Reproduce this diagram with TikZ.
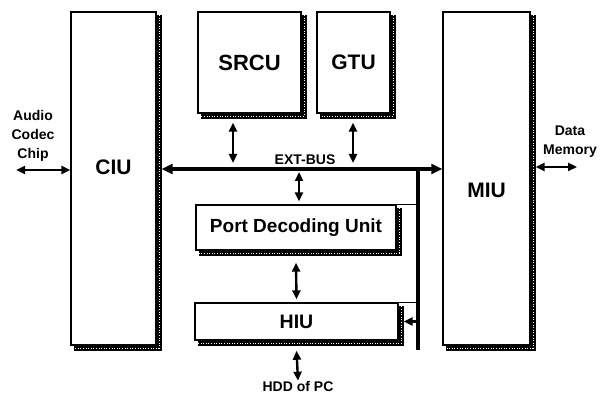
\documentclass[tikz,border=0pt]{standalone}
\usepackage{fontspec}
\setmainfont{Liberation Sans}
\usetikzlibrary{arrows.meta,positioning}
\tikzset{u/.style={draw,line width=1.4pt,inner sep=0pt,big},big/.style={font=\fontsize{21}{23}\selectfont\bfseries},
lb/.style={align=center,inner sep=0pt,font=\fontsize{14}{19}\selectfont\bfseries},
sh/.style={line width=5pt,line join=miter,postaction={draw,white,line width=1.1pt,dash pattern=on 0.9pt off 1.7pt}},
>={Triangle[length=9pt,width=8pt]},arr/.style={<->,line width=2.4pt},
bus/.style={{Triangle[length=11pt,width=10pt]}-{Triangle[length=11pt,width=10pt]},line width=3.2pt}}
\begin{document}
\begin{tikzpicture}[x=1pt,y=-1pt]
\useasboundingbox(0,0)rectangle(607,395);
\node[u,minimum width=85pt,minimum height=333pt,label={[big,yshift=11pt]center:CIU}](CIU)at(113.5,178.5){};
\node[u,minimum width=87pt,minimum height=333pt,label={[big,yshift=-12pt]center:MIU}](MIU)at(486.5,178.5){};
\node[u,minimum width=103pt,minimum height=101pt,font=\fontsize{22}{24}\selectfont\bfseries](SRCU)at(249.5,62.5){SRCU};
\node[u,minimum width=73pt,minimum height=101pt](GTU)at(353.5,62.5){GTU};
\node[u,minimum width=200pt,minimum height=45pt,font=\fontsize{19}{21}\selectfont\bfseries](PDU)at(296,227.5){Port Decoding Unit};
\node[u,minimum width=203pt,minimum height=37pt,font=\fontsize{19.5}{21}\selectfont\bfseries](HIU)at(296.5,321.5){HIU};
\foreach\n in{CIU,MIU,SRCU,GTU,PDU,HIU}\draw[sh]([xshift=2.5pt,yshift=-4pt]\n.north east)--([xshift=2.5pt,yshift=-2.5pt]\n.south east)--([xshift=4pt,yshift=-2.5pt]\n.south west);
\node[lb](AC)at(33,136){Audio\\Codec\\Chip};\node[lb](DM)at(570,142){Data\\Memory};
\node[lb](EB)at(305,160){EXT-BUS};\node[lb](HDD)at(298,386){HDD of PC};
% bus
\coordinate(v1)at(418,169);\coordinate(v2)at(418,350);
\draw[bus]([xshift=5pt]CIU.east|-v1)--(MIU.west|-v1);\draw[line width=3.2pt](v1)--(v2);
\draw[line width=1.4pt](PDU.north east)--(PDU.north east-|v1);\draw[line width=1.4pt](HIU.north east)--(HIU.north east-|v1);
\draw[->,line width=2.4pt](HIU.east-|v1)--([xshift=5pt]HIU.east);
% links
\coordinate(ac)at(16,170);\coordinate(dm)at(577,167);\coordinate(s1)at(233,163);\coordinate(g1)at(353,163);\coordinate(p1)at(299,172);
\draw[arr](ac)--(ac-|CIU.west);\draw[arr]([xshift=5pt]MIU.east|-dm)--(dm);
\draw[arr]([yshift=-9pt]SRCU.south-|s1)--(s1);\draw[arr]([yshift=-9pt]GTU.south-|g1)--(g1);
\draw[arr](p1)--([yshift=3pt]PDU.north-|p1);\draw[arr]([yshift=-12pt]PDU.south)--([yshift=3pt]HIU.north);
\draw[arr]([yshift=-10pt]HIU.south)--(HDD.north);
\end{tikzpicture}
\end{document}
